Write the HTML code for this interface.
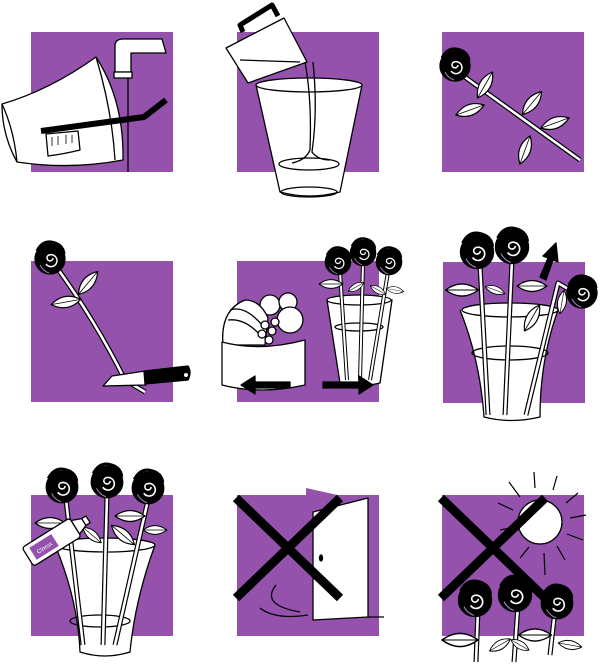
<!DOCTYPE html>
<html><head><meta charset="utf-8"><style>html,body{margin:0;padding:0;background:#fff}svg{display:block}</style></head>
<body>
<svg width="600" height="667" viewBox="0 0 600 667" xmlns="http://www.w3.org/2000/svg">
<defs>
<g id="rose">
<circle cx="0" cy="0" r="15" fill="#000"/>
<path d="M-13,-8 q5,-10 14,-9 q12,2 13,12" fill="none" stroke="#000" stroke-width="3"/>
<path d="M3,-1 a3,3 0 1 1 -4,-3 a6,6 0 1 1 -3,9" fill="none" stroke="#fff" stroke-width="1.5"/>
<path d="M-10,6 q3,6 9,8" fill="none" stroke="#a78ac0" stroke-width="1"/>
</g>
<g id="leaf"><path d="M-15,0 Q0,-11 15,0 Q0,11 -15,0Z" fill="#fff" stroke="#000" stroke-width="1.2"/><path d="M-15,0 L15,0" stroke="#000" stroke-width="0.8"/></g>
<path id="s1" d="M55,265 Q95,320 125,380 L145,392" fill="none"/>
<path id="s2" d="M340,272 L347,380 M363,263 L360,380 M388,272 L370,380" fill="none"/>
<path id="s3" d="M480,265 L488,415 M512,260 L505,415 M575,293 L558,283 L526,415" fill="none"/>
<path id="s4" d="M66,500 L83,645 M107,495 L103,645 M148,500 L115,645" fill="none"/>
<path id="s5" d="M478,610 L476,662 M518,605 L514,662 M555,610 L550,655" fill="none"/>
<path id="s6" d="M462,75 L580,160" fill="none"/>
</defs>
<g fill="#9452ad">
<rect x="31" y="32" width="142" height="140"/>
<rect x="237" y="32" width="142" height="140"/>
<rect x="442" y="32" width="142" height="140"/>
<rect x="31" y="261" width="142" height="141"/>
<rect x="237" y="261" width="142" height="141"/>
<rect x="443" y="262" width="142" height="141"/>
<rect x="31" y="495" width="142" height="141"/>
<rect x="237" y="495" width="142" height="141"/>
<rect x="442" y="495" width="142" height="141"/>
</g>
<g stroke="#000" stroke-width="1.3" fill="#fff" stroke-linejoin="round">
<!-- panel 1 -->
<path d="M115,72 V46 q0,-7 8,-7 H162 L166,53 H131 V72Z"/>
<rect x="114" y="72" width="18" height="6"/>
<path d="M128,78 V172" fill="none"/>
<path d="M2,104 Q50,90 96,57 Q124,100 123,160 Q70,170 17,162 Q2,135 2,104Z"/>
<path d="M96,57 Q112,110 115,160" fill="none"/>
<path d="M2,104 Q14,130 17,162" fill="none"/>
<path d="M46,134 L78,131 L80,150 Q64,154 48,156Z"/>
<path d="M52,137 V146 M58,136 V145 M66,135 V144 M72,135 V143" fill="none" stroke-width="0.8"/>
<path d="M41,131 L144,117 L166,100" fill="none" stroke-width="6"/>
<!-- panel 2 -->
<path d="M256,85 L280,192 Q309,200 340,192 L362,85"/>
<ellipse cx="309" cy="85" rx="53" ry="7"/>
<ellipse cx="309" cy="164" rx="30" ry="6" fill="none"/>
<ellipse cx="309" cy="192" rx="28" ry="5" fill="none"/>
<path d="M226,48 L284,18 L307,62 L248,83Z"/>
<path d="M243,32 L240,25 L272,5 L278,16" fill="none" stroke-width="5"/>
<path d="M240,60 L300,62" fill="none"/>
<path d="M305,62 Q312,100 310,150 Q306,160 292,163 M313,62 Q318,110 312,152 Q318,160 330,160" fill="none"/>
<!-- panel 3 -->
<use href="#s6" stroke="#000" stroke-width="5"/>
<use href="#s6" stroke="#fff" stroke-width="2.6"/>
<use href="#rose" x="455" y="66"/>
<use href="#leaf" transform="translate(485,85) rotate(-60)"/>
<use href="#leaf" transform="translate(470,110) rotate(-20)"/>
<use href="#leaf" transform="translate(532,103) rotate(-50)"/>
<use href="#leaf" transform="translate(555,123) rotate(-20)"/>
<use href="#leaf" transform="translate(525,150) rotate(-70)"/>
</g>
<g stroke="#000" stroke-width="1.3" fill="#fff" stroke-linejoin="round">
<!-- row2 panel1 -->
<use href="#s1" stroke="#000" stroke-width="5"/>
<use href="#s1" stroke="#fff" stroke-width="2.6"/>
<use href="#rose" x="50" y="259"/>
<use href="#leaf" transform="translate(88,283) rotate(-50)"/>
<use href="#leaf" transform="translate(66,302) rotate(-10)"/>
<path d="M103,386 L112,376 L145,371 L146,385Z"/>
<path d="M144,371 L188,366 Q192,372 188,380 L145,384Z" fill="#000"/>
<circle cx="186" cy="375" r="2" fill="#fff" stroke="none"/>
<!-- row2 panel2 -->
<circle cx="270" cy="305" r="10"/><circle cx="288" cy="302" r="9"/><circle cx="290" cy="320" r="13"/>
<path d="M223,345 Q220,310 245,300 Q260,300 268,318 L265,345Z"/>
<path d="M230,310 Q245,305 262,325 M228,320 Q245,318 260,335" fill="none"/>
<path d="M222,342 Q260,352 305,340 V385 Q260,395 222,385Z"/>
<g><circle cx="265" cy="325" r="4"/><circle cx="272" cy="331" r="4"/><circle cx="262" cy="334" r="4"/><circle cx="269" cy="340" r="4"/><circle cx="275" cy="322" r="4"/></g>
<path d="M327,300 L340,383 Q360,388 380,383 L392,300Z"/>
<ellipse cx="359" cy="300" rx="32" ry="5"/>
<ellipse cx="359" cy="327" rx="24" ry="4" fill="none"/>
<use href="#s2" stroke="#000" stroke-width="4"/>
<use href="#s2" stroke="#fff" stroke-width="2"/>
<use href="#leaf" transform="translate(331,284) scale(0.8)"/>
<use href="#leaf" transform="translate(356,287) rotate(-30) scale(0.6)"/>
<use href="#leaf" transform="translate(378,290) rotate(30) scale(0.6)"/>
<use href="#leaf" transform="translate(395,290) rotate(10) scale(0.6)"/>
<use href="#rose" transform="translate(338,262) scale(0.85)"/>
<use href="#rose" transform="translate(363,253) scale(0.85)"/>
<use href="#rose" transform="translate(389,262) scale(0.85)"/>
<path d="M241,385 L255,376 V382 H290 V388 H255 V394Z" fill="#000"/>
<path d="M373,385 L359,376 V382 H323 V388 H359 V394Z" fill="#000"/>
<!-- row2 panel3 -->
<path d="M460,310 Q480,360 484,417 Q511,424 540,417 Q540,360 558,310"/>
<ellipse cx="510" cy="310" rx="48" ry="7"/>
<ellipse cx="510" cy="353" rx="38" ry="7" fill="none"/>
<use href="#s3" stroke="#000" stroke-width="5"/>
<use href="#s3" stroke="#fff" stroke-width="2.6"/>
<use href="#leaf" transform="translate(462,290) scale(1.1)"/>
<use href="#leaf" transform="translate(495,290) rotate(20) scale(0.7)"/>
<use href="#leaf" transform="translate(532,286)"/>
<use href="#leaf" transform="translate(532,318) rotate(-60)"/>
<use href="#leaf" transform="translate(562,302) rotate(-80) scale(0.8)"/>
<use href="#rose" transform="translate(477,252) scale(1.1)"/>
<use href="#rose" transform="translate(512,247) scale(1.1)"/>
<use href="#rose" transform="translate(582,293)"/>
<path d="M540,277 L548,258 L543,256 L556,243 L558,262 L553,260 L546,280Z" fill="#000"/>
</g>
<g stroke="#000" stroke-width="1.3" fill="#fff" stroke-linejoin="round">
<!-- row3 panel1 -->
<path d="M55,545 Q78,600 80,652 Q105,660 130,652 Q135,600 155,545"/>
<ellipse cx="105" cy="545" rx="50" ry="7"/>
<ellipse cx="100" cy="621" rx="30" ry="6" fill="none"/>
<use href="#s4" stroke="#000" stroke-width="5"/>
<use href="#s4" stroke="#fff" stroke-width="2.6"/>
<use href="#leaf" transform="translate(50,523)"/>
<use href="#leaf" transform="translate(130,516)"/>
<use href="#leaf" transform="translate(123,535) rotate(40)"/>
<use href="#leaf" transform="translate(92,535) rotate(40) scale(0.8)"/>
<use href="#leaf" transform="translate(155,530) scale(0.8)"/>
<use href="#rose" transform="translate(62,487) scale(1.05)"/>
<use href="#rose" transform="translate(107,482) scale(1.05)"/>
<use href="#rose" transform="translate(148,488) scale(1.05)"/>
<g transform="translate(55,540) rotate(-32)">
<rect x="-32" y="-11" width="56" height="22" rx="3"/>
<path d="M24,-8 L34,-4 V4 L24,8Z"/>
<rect x="34" y="-4" width="5" height="8"/>
<rect x="-26" y="-7" width="26" height="14" fill="#9452ad" stroke="none"/>
<text x="-13" y="3" font-family="Liberation Sans, sans-serif" font-size="6" fill="#fff" text-anchor="middle" stroke="none">Clorox</text>
</g>
<!-- row3 panel2 -->
<path d="M306,488 L306,500 L360,500Z" fill="#9452ad" stroke="none"/>
<path d="M313,512 L368,498 V617 L313,620Z"/>
<ellipse cx="321" cy="558" rx="1.5" ry="3" fill="#000"/>
<path d="M368,617 L384,617 M276,585 Q260,605 300,612 M260,608 Q275,620 308,615" fill="none"/>
<path d="M236,498 L340,598 M340,498 L236,598" stroke-width="9" fill="none"/>
<!-- row3 panel3 -->
<circle cx="540" cy="522" r="22"/>
<g stroke-width="1.2" fill="none">
<path d="M509,482 L520,497 M534,472 L535,488 M557,476 L553,490 M578,493 L566,503 M586,515 L570,518 M583,540 L567,534 M565,560 L557,546 M545,575 L544,553 M520,558 L529,547 M500,530 L515,527 M498,503 L513,510"/>
</g>
<use href="#s5" stroke="#000" stroke-width="5"/>
<use href="#s5" stroke="#fff" stroke-width="2.6"/>
<use href="#leaf" transform="translate(460,640) scale(1.2)"/>
<use href="#leaf" transform="translate(500,645) rotate(-30) scale(0.8)"/>
<use href="#leaf" transform="translate(535,635) scale(1.1)"/>
<use href="#leaf" transform="translate(570,645) rotate(10) scale(0.8)"/>
<use href="#leaf" transform="translate(520,645) rotate(30) scale(0.7)"/>
<use href="#rose" transform="translate(475,600) scale(1.1)"/>
<use href="#rose" transform="translate(515,595) scale(1.1)"/>
<use href="#rose" transform="translate(557,603) scale(1.05)"/>
<path d="M441,498 L545,598 M545,498 L441,598" stroke-width="9" fill="none"/>
</g>
</svg>
</body></html>
